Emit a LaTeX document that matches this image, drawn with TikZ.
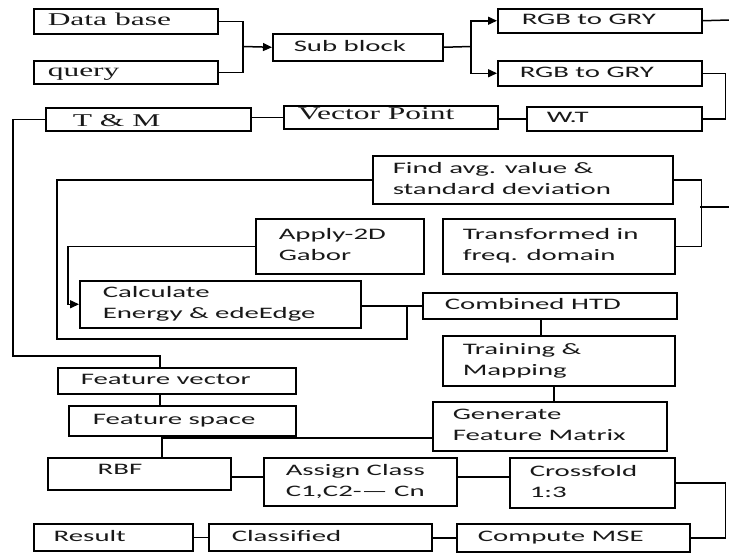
\documentclass[tikz,border=0pt]{standalone}
\usepackage{fontspec}
\usetikzlibrary{arrows.meta}
\newfontfamily\bxsansfam[FakeStretch=1.8]{Carlito}
\newfontfamily\bxseriffam[FakeStretch=1.75]{Liberation Serif}
\newcommand\bxsans{\bxsansfam\fontsize{16}{21}\selectfont}
\newcommand\bxserif{\bxseriffam\fontsize{18}{22}\selectfont}
\tikzset{
  box/.style={draw, line width=1.5pt, anchor=north west, inner xsep=0pt, inner ysep=0pt,
    font=\bxsans, text=black!90},
  serifbox/.style={font=\bxserif},
  conn/.style={line width=1.5pt},
  arr/.style={conn, -{Triangle[length=9pt,width=8pt]}}
}
\newcommand\mybox[8][]{%
  \pgfmathsetmacro\bxw{#5-#3}%
  \pgfmathsetmacro\bxh{#6-#4}%
  \node[box, minimum width=\bxw pt, minimum height=\bxh pt, #1] (#2) at (#3,#4)
    {\makebox[\bxw pt][l]{\hspace*{#7pt}\begin{tabular}{@{}l@{}}#8\end{tabular}}};}
\begin{document}
\begin{tikzpicture}[x=1pt,y=-1pt]
\useasboundingbox (0,0) rectangle (729,555);
% boxes
\mybox[serifbox]{db}{33}{8}{217}{33}{14}{Data base}
\mybox[serifbox]{qr}{33}{60}{217}{83}{14}{query}
\mybox{sb}{272}{33}{442}{60}{21}{Sub block}
\mybox{rg1}{497}{8}{701}{32}{24}{RGB to GRY}
\mybox{rg2}{497}{60}{701}{85}{22}{RGB to GRY}
\mybox{wt}{526}{106}{701}{130}{20}{W.T}
\mybox[serifbox]{vp}{283}{105}{497}{128}{14}{\raisebox{2pt}[\height][\depth]{Vector Point}}
\mybox[serifbox]{tm}{45}{107}{250}{130}{27}{\raisebox{-3pt}[\height][\depth]{T \& M}}
\mybox{fa}{372}{155}{672}{203}{20}{Find avg. value \&\\standard deviation}
\mybox{tf}{442}{218}{674}{273}{20}{Transformed in\\freq. domain}
\mybox{ag}{255}{218}{423}{273}{23}{Apply-2D\\Gabor}
\mybox{calc}{79}{280}{360}{327}{23}{Calculate\\Energy \& edeEdge}
\mybox{chtd}{422}{292}{676}{318}{22}{Combined HTD}
\mybox{trm}{442}{335}{674}{385}{20}{Training \&\\Mapping}
\mybox{gfm}{432}{401}{666}{450}{20}{Generate\\Feature Matrix}
\mybox{fv}{57}{367}{295}{393}{23}{Feature vector}
\mybox{fs}{68}{405}{295}{435}{24}{Feature space}
\mybox{rbf}{47}{457}{230}{489}{50}{\raisebox{3pt}[\height][\depth]{RBF}}
\mybox{ac}{263}{457}{456}{505}{22}{Assign Class\\C1,C2-— Cn}
\mybox{cf}{509}{457}{674}{507}{20}{Crossfold\\1:3}
\mybox{cm}{456}{523}{689}{551}{21}{Compute MSE}
\mybox{cl}{208}{523}{431}{550}{23}{Classified}
\mybox{rs}{33}{523}{192}{550}{20}{Result}
% helper coordinates
\coordinate (j1) at (243,46.5);
\coordinate (j2) at (471,46.5);
\coordinate (e1) at (729,20);
\coordinate (j6) at (700,207);
\coordinate (e2) at (729,207);
\coordinate (k1) at (57,339);
\coordinate (j4) at (407,339);
\coordinate (c3) at (160,356);
\coordinate (j7) at (162,438);
\coordinate (r1) at (0,477);
\coordinate (t1) at (541,0);
\coordinate (t2) at (554,0);
% connectors
\draw[conn] (db.east) -| (j1) |- (qr.east);
\draw[arr] (j1) -- (sb.west);
\draw[conn] (sb.east) -- (j2);
\draw[arr] (j2) |- (rg1.west);
\draw[arr] (j2) |- (rg2.west);
\draw[conn] (rg1.east) -- (e1);
\draw[conn] (rg2.east) -- ++(23,0) |- (wt.east);
\draw[conn] (wt.west) -- (wt.west -| vp.east);
\draw[conn] (vp.west) -- (vp.west -| tm.east);
\draw[conn] (tm.west) -- ++(-32,0) |- (c3) -- (c3 |- fv.north);
\draw[conn] (c3 |- fv.south) -- (c3 |- fs.north);
\draw[conn] (j7 |- fs.south) -- (j7 |- rbf.north);
\draw[conn] (j7) -- (j7 -| gfm.west);
\draw[conn] (rbf.east |- r1) -- (ac.west |- r1);
\draw[conn] (ac.east |- r1) -- (cf.west |- r1);
\draw[conn] (cf.east) -- ++(50,0) |- (cm.east);
\draw[conn] (cm.west) -- (cm.west -| cl.east);
\draw[conn] (cl.west) -- (cl.west -| rs.east);
\draw[conn] (fa.west) -| (k1) -- (j4) -- (j4 |- chtd.west);
\draw[conn] (chtd.west) -- (chtd.west -| calc.east);
\draw[arr] (ag.west) -| ([xshift=-11pt]calc.west) -- (calc.west);
\draw[conn] (fa.east) -- ++(28,0) |- (tf.east);
\draw[conn] (j6) -- (e2);
\draw[conn] (t1 |- chtd.south) -- (t1 |- trm.north);
\draw[conn] (t2 |- trm.south) -- (t2 |- gfm.north);
\end{tikzpicture}
\end{document}
